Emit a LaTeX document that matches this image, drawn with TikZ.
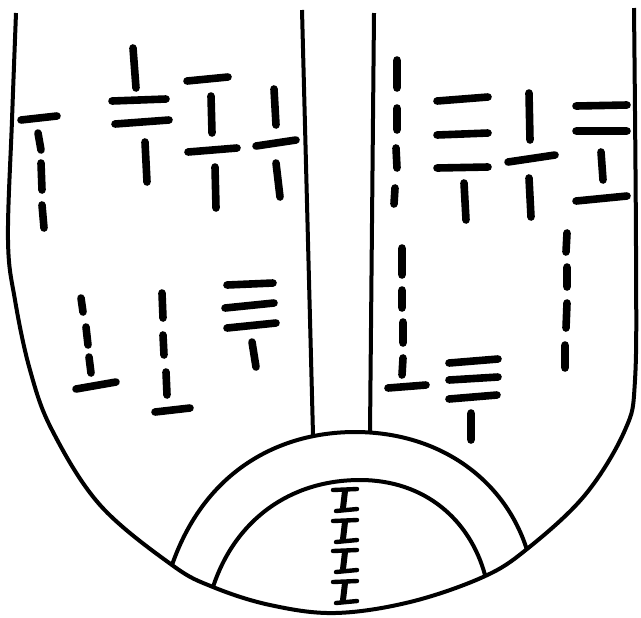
\documentclass[tikz,border=0pt]{standalone}
\usepackage{tikz}
\begin{document}
\begin{tikzpicture}[x=0.5pt, y=-0.5pt, outline/.style={line width=2pt, line join=round}, brush/.style={line width=3.8pt, line cap=round}, glyph/.style={line width=2.2pt, line cap=round}]
\useasboundingbox (0,0) rectangle (641,617);
% tongue outline
\draw[outline] plot[smooth, tension=0.6] coordinates {(16,13) (12,120) (8,240) (15,300) (30,370) (52,430) (100,505) (172,565) (213,587) (270,605) (335,613) (410,602) (483,577) (527,549) (585,495) (625,430) (635,380) (636,250) (634,8)};
\draw[outline] (302,10) -- (313,435);
\draw[outline] (374,13) -- (370,432);
\draw[outline] (172,565) .. controls (205,470) and (280,432) .. (355,432) .. controls (440,432) and (505,480) .. (527,550);
\draw[outline] (213,587) .. controls (235,520) and (290,480) .. (360,480) .. controls (425,480) and (470,520) .. (485,575);
% left half, upper row
\draw[brush] (21,120) -- (57,116);
\draw[brush] (38,133) -- (41,150) (41,163) -- (42,190) (42,205) -- (44,228);
\draw[brush] (133,48) -- (136,88) (112,101) -- (166,99) (115,124) -- (169,120) (145,142) -- (147,182);
\draw[brush] (187,81) -- (228,77) (211,96) -- (212,133) (188,152) -- (237,148) (215,167) -- (216,208);
\draw[brush] (274,89) -- (276,125) (256,146) -- (296,140) (276,163) -- (280,197);
% left half, lower row
\draw[brush] (81,298) -- (83,312) (86,327) -- (88,345) (89,357) -- (91,373) (76,389) -- (116,382);
\draw[brush] (162,293) -- (163,318) (163,335) -- (164,355) (166,372) -- (167,395) (155,412) -- (190,408);
\draw[brush] (227,285) -- (273,283) (225,308) -- (274,303) (227,328) -- (276,323) (252,342) -- (256,367);
% right half, upper row
\draw[brush] (397,60) -- (397,88) (397,108) -- (397,130) (396,148) -- (397,168) (395,188) -- (394,204);
\draw[brush] (437,101) -- (488,97) (437,135) -- (488,133) (437,168) -- (488,167) (464,183) -- (466,220);
\draw[brush] (529,93) -- (530,140) (508,162) -- (555,155) (529,178) -- (531,217);
\draw[brush] (576,106) -- (627,105) (576,131) -- (627,131) (601,152) -- (603,180) (576,201) -- (627,196);
% right half, lower row
\draw[brush] (402,248) -- (402,275) (402,290) -- (402,308) (403,322) -- (403,343) (403,358) -- (402,375) (388,388) -- (426,385);
\draw[brush] (449,363) -- (498,359) (449,380) -- (498,377) (449,399) -- (497,395) (471,413) -- (471,440);
\draw[brush] (567,233) -- (566,252) (567,267) -- (567,287) (567,303) -- (566,328) (565,345) -- (565,368);
% root marks
\foreach \y in {490,521,551,582} {
  \draw[glyph] (333,\y) -- (357,\y-1);
  \draw[glyph, line width=3pt] (345,\y+1) -- (343,\y+18);
  \draw[glyph] (336,\y+21) -- (357,\y+19);
}
\end{tikzpicture}
\end{document}
